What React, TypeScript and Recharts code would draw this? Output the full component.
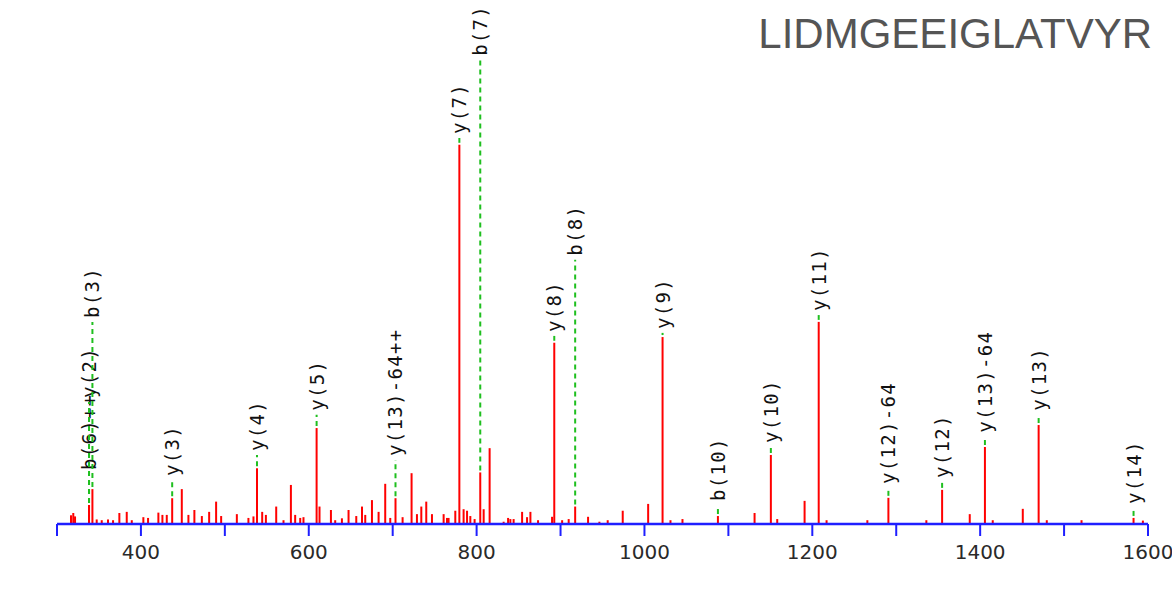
import { ComposedChart, Bar, XAxis, YAxis } from 'recharts';

const peptide = 'LIDMGEEIGLATVYR';

// x axis ticks (m/z), labels only on every 200
const tickValues = [300, 400, 500, 600, 700, 800, 900, 1000, 1100, 1200, 1300, 1400, 1500, 1600];

// annotated fragment ions
const ionLabels = ['b(6)++', 'y(2)', 'b(3)', 'y(3)', 'y(4)', 'y(5)', 'y(13)-64++', 'y(7)', 'b(7)', 'y(8)', 'b(8)', 'y(9)', 'b(10)', 'y(10)', 'y(11)', 'y(12)-64', 'y(12)', 'y(13)-64', 'y(13)', 'y(14)'];
const ionMz = [338.15, 338.18, 342.2, 437.25, 538.3, 609.34, 703.35, 779.44, 804.34, 892.53, 917.43, 1021.57, 1087.53, 1150.61, 1207.63, 1290.67, 1354.67, 1405.69, 1469.69, 1582.78];
const ionIntensity = [5.0, 5.0, 9.2, 6.8, 14.7, 25.3, 6.8, 100, 13.6, 47.8, 4.6, 49.3, 2.1, 18.2, 53.3, 6.9, 9.0, 20.3, 26.1, 1.6];
// height (same units as intensity) where the dashed leader ends and the label starts
const ionLabelLevel = [13.2, 32.2, 53.3, 11.6, 18.2, 28.8, 16.9, 101.8, 122.4, 49.6, 69.7, 50.4, 5.0, 20.3, 55.1, 9.5, 11.1, 23.0, 28.8, 4.2];

// unassigned peaks
const peakMz = [316.7, 319.4, 321.5, 347.3, 353.3, 360.8, 366.8, 374.3, 383.1, 389.1, 402.9, 408.5, 420.8, 425.6, 430.8, 448.7, 456.6, 463.7, 472.6, 481.3, 489.6, 495.6, 514.3, 528.1, 534.1, 544.5, 548.9, 561.2, 569.9, 578.7, 583.8, 589.8, 593.7, 612.8, 626.4, 631.5, 639.5, 647.4, 656.6, 663.4, 667.3, 675.3, 683.2, 691.1, 697.1, 711.8, 722.5, 728.9, 734.1, 740.0, 746.8, 760.7, 764.7, 766.6, 774.6, 784.5, 788.6, 792.5, 797.6, 808.4, 815.5, 832.2, 837.5, 840.2, 844.1, 854.2, 860.1, 864.1, 873.2, 889.9, 901.9, 909.7, 932.8, 946.3, 956.2, 974.1, 1004.4, 1031.0, 1045.3, 1131.2, 1158.2, 1190.8, 1217.0, 1265.6, 1335.9, 1387.6, 1415.0, 1450.8, 1479.4, 1520.8, 1593.9];
const peakIntensity = [2.3, 2.9, 2.0, 1.2, 1.0, 1.2, 1.0, 2.9, 3.2, 1.0, 1.8, 1.6, 3.0, 2.4, 2.4, 9.2, 2.4, 3.7, 2.1, 3.2, 5.9, 2.1, 2.6, 1.6, 2.0, 3.2, 2.4, 4.6, 1.0, 10.3, 2.4, 1.6, 1.8, 4.6, 3.7, 1.0, 1.5, 3.7, 2.1, 4.6, 2.4, 6.3, 3.2, 10.6, 1.6, 1.8, 13.4, 2.6, 4.6, 5.9, 2.6, 2.6, 1.6, 1.6, 3.5, 3.9, 3.5, 2.1, 1.3, 3.9, 20.0, 0.6, 1.6, 1.3, 1.3, 3.2, 1.8, 3.2, 1.0, 1.9, 1.0, 1.3, 1.9, 0.6, 1.0, 3.5, 5.3, 1.0, 1.3, 2.9, 1.3, 6.1, 1.0, 1.0, 1.0, 2.6, 1.0, 4.0, 1.0, 1.0, 0.9];

const rows = [
  ...peakMz.map((mz, i) => ({ mz, intensity: peakIntensity[i], label: '', level: 0 })),
  ...ionMz.map((mz, i) => ({ mz, intensity: ionIntensity[i], label: ionLabels[i], level: ionLabelLevel[i] })),
].sort((a, b) => a.mz - b.mz);

const AXIS_BLUE = '#1f1fff';

function PeakShape(props: any) {
  const { x, y, width, height, payload } = props;
  if (x == null || y == null || !payload) return null;
  const cx = x + (width || 0) / 2;
  const base = y + height;
  const unit = payload.intensity > 0 ? height / payload.intensity : 0;
  const labelY = base - payload.level * unit;
  return (
    <g>
      <line x1={cx} x2={cx} y1={base} y2={y} stroke="#ff0000" strokeWidth={2} />
      {payload.label && (
        <>
          <line x1={cx} x2={cx} y1={y - 2} y2={labelY} stroke="#1fbf1f" strokeWidth={2} strokeDasharray="5 4" />
          <text
            x={cx}
            y={labelY - 4}
            transform={`rotate(-90 ${cx} ${labelY - 4})`}
            textAnchor="start"
            dominantBaseline="central"
            fontFamily="'DejaVu Sans Mono', monospace"
            fontSize={19}
            letterSpacing={1.3}
            fill="#111"
          >
            {payload.label}
          </text>
        </>
      )}
    </g>
  );
}

export default function App() {
  return (
    <div style={{ position: 'absolute', left: 0, top: 0, width: 1172, height: 604, background: '#fff' }}>
      <div
        style={{
          position: 'absolute',
          right: 20,
          top: 12.5,
          fontFamily: "'Liberation Sans', Arial, sans-serif",
          fontSize: 42,
          lineHeight: '42px',
          color: '#555',
          zIndex: 2,
        }}
      >
        {peptide}
      </div>
      <ComposedChart width={1172} height={604} data={rows} margin={{ top: 50, right: 24, left: 57, bottom: 40 }}>
        <XAxis
          dataKey="mz"
          type="number"
          domain={[300, 1600]}
          ticks={tickValues}
          interval={0}
          height={40}
          axisLine={{ stroke: AXIS_BLUE, strokeWidth: 2.5 }}
          tickLine={{ stroke: AXIS_BLUE, strokeWidth: 2 }}
          tickSize={12}
          tickMargin={9}
          tickFormatter={(v: number) => (v % 200 === 0 ? String(v) : '')}
          tick={{ fill: '#2a2a2a', fontSize: 20, fontFamily: "'DejaVu Sans', sans-serif" }}
        />
        <YAxis hide domain={[0, 125]} />
        <Bar dataKey="intensity" barSize={2} shape={PeakShape} isAnimationActive={false} />
      </ComposedChart>
    </div>
  );
}
